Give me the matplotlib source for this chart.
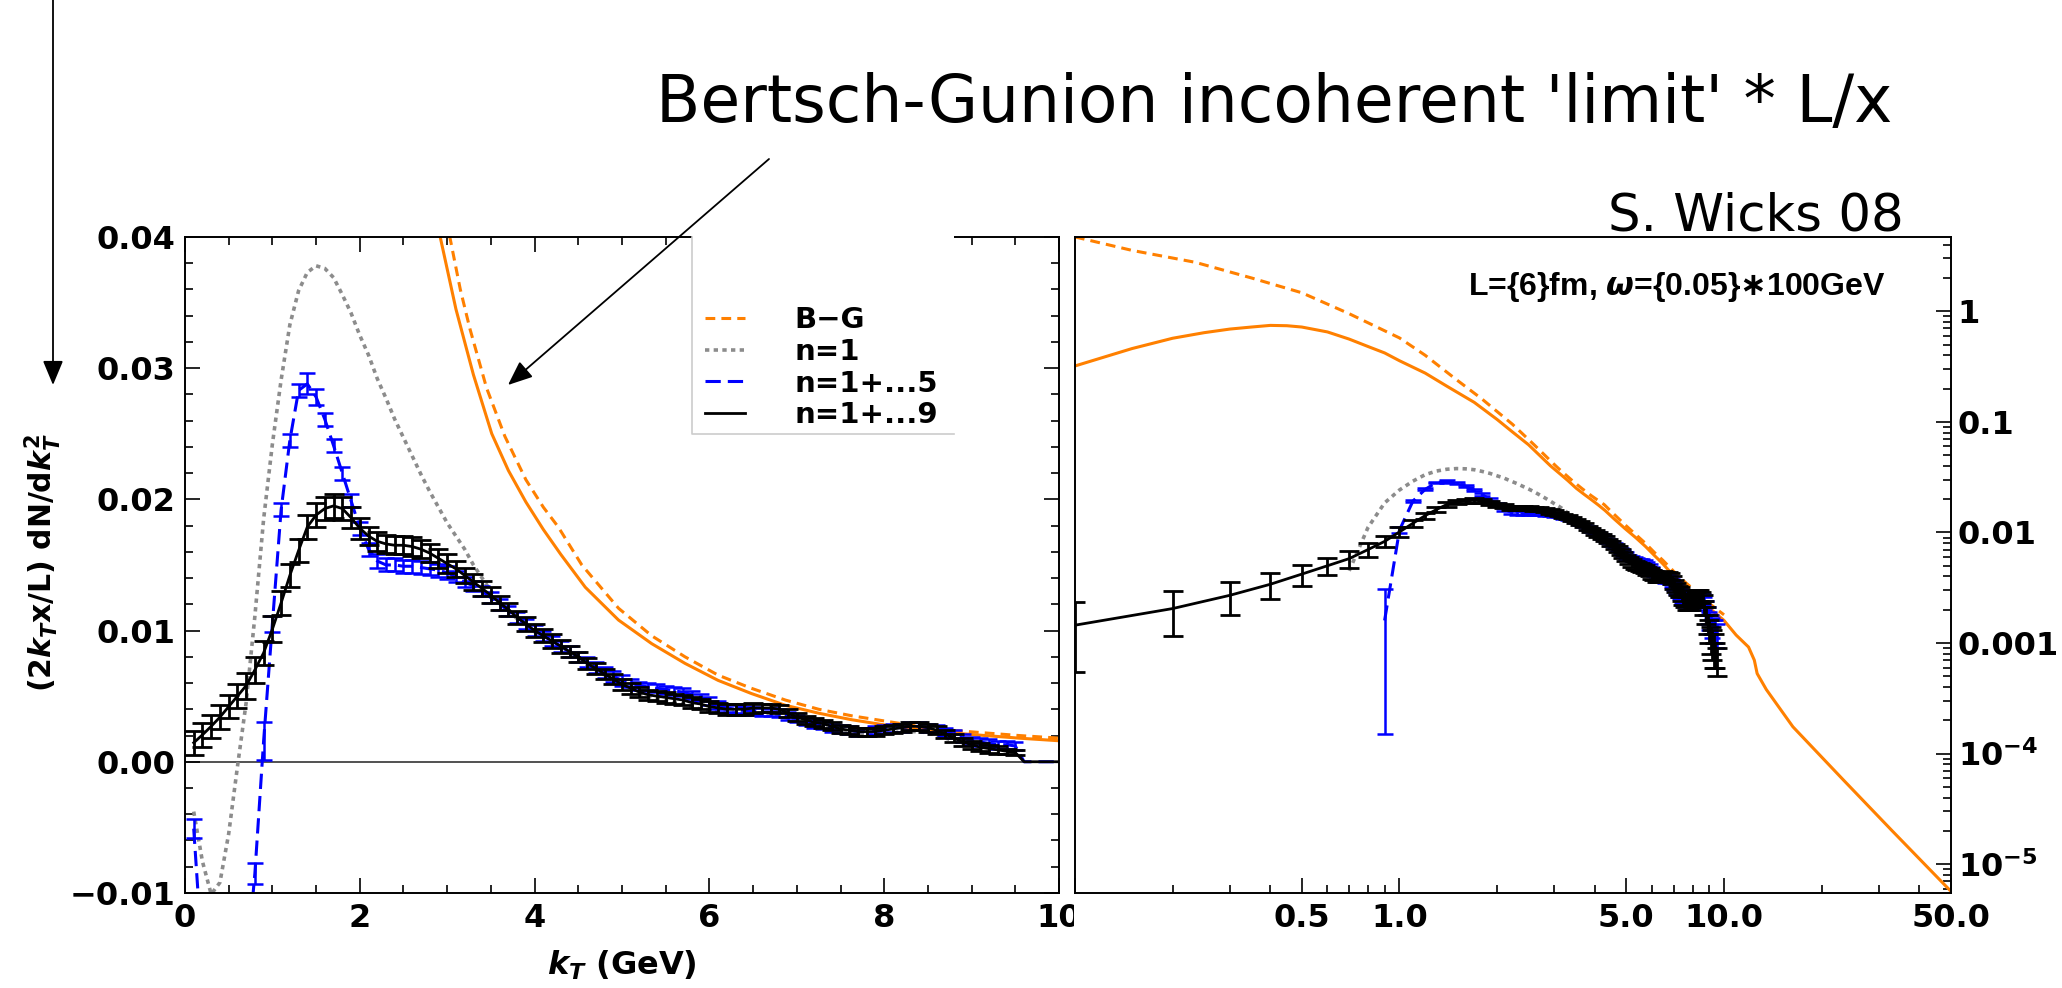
import matplotlib
matplotlib.use("Agg")
import matplotlib.pyplot as plt
from matplotlib.patches import Rectangle, FancyArrowPatch
from matplotlib.ticker import FixedLocator, MultipleLocator, NullFormatter

plt.rcParams['font.family'] = ['DejaVu Sans']
plt.rcParams['font.weight'] = 'bold'
plt.rcParams['axes.labelweight'] = 'bold'
plt.rcParams['mathtext.fontset'] = 'custom'
plt.rcParams['mathtext.rm'] = 'DejaVu Sans:bold'
plt.rcParams['mathtext.bf'] = 'DejaVu Sans:bold'
plt.rcParams['mathtext.it'] = 'DejaVu Sans:italic:bold'

# kT grid of the Monte Carlo points (GeV)
kt = [0.1, 0.2, 0.3, 0.4, 0.5, 0.6, 0.7, 0.8, 0.9, 1.0,
      1.1, 1.2, 1.3, 1.4, 1.5, 1.6, 1.7, 1.8, 1.9, 2.0,
      2.1, 2.2, 2.3, 2.4, 2.5, 2.6, 2.7, 2.8, 2.9, 3.0,
      3.1, 3.2, 3.3, 3.4, 3.5, 3.6, 3.7, 3.8, 3.9, 4.0,
      4.1, 4.2, 4.3, 4.4, 4.5, 4.6, 4.7, 4.8, 4.9, 5.0,
      5.1, 5.2, 5.3, 5.4, 5.5, 5.6, 5.7, 5.8, 5.9, 6.0,
      6.1, 6.2, 6.3, 6.4, 6.5, 6.6, 6.7, 6.8, 6.9, 7.0,
      7.1, 7.2, 7.3, 7.4, 7.5, 7.6, 7.7, 7.8, 7.9, 8.0,
      8.1, 8.2, 8.3, 8.4, 8.5, 8.6, 8.7, 8.8, 8.9, 9.0,
      9.1, 9.2, 9.3, 9.4, 9.5, 9.6, 9.7, 9.8, 9.9, 10.0]

# n=1+...9 (black)
black_y = [0.00145, 0.00205, 0.0027, 0.0034, 0.0042, 0.0050, 0.0058, 0.0070, 0.0083, 0.0101,
           0.0121, 0.0142, 0.0161, 0.0179, 0.0188, 0.0193, 0.0195, 0.0193, 0.0186, 0.0178,
           0.0172, 0.0168, 0.0166, 0.0165, 0.0165, 0.0164, 0.0162, 0.0159, 0.0155, 0.0151,
           0.0147, 0.0142, 0.0137, 0.0132, 0.0127, 0.0121, 0.0116, 0.0110, 0.0105, 0.0100,
           0.0096, 0.0092, 0.0088, 0.0084, 0.0080, 0.0075, 0.0071, 0.0067, 0.0063, 0.0059,
           0.0056, 0.0053, 0.0051, 0.0050, 0.0049, 0.0048, 0.0047, 0.0045, 0.0044, 0.0042,
           0.0041, 0.0040, 0.0040, 0.0040, 0.0041, 0.0041, 0.0041, 0.0040, 0.0037, 0.0034,
           0.0032, 0.0030, 0.0029, 0.0027, 0.0025, 0.0024, 0.0023, 0.0023, 0.0023, 0.0024,
           0.0025, 0.0026, 0.0027, 0.0027, 0.0026, 0.0024, 0.0021, 0.0018, 0.0015, 0.0013,
           0.0011, 0.0010, 0.0009, 0.0008, 0.0007, 0.0, 0.0, 0.0, 0.0, 0.0]
black_err = [0.0009, 0.0009, 0.0009, 0.0009, 0.0009, 0.0009, 0.0010, 0.0010, 0.0009, 0.0010,
             0.0009, 0.0009, 0.0009, 0.0009, 0.0009, 0.0009, 0.0009, 0.0009, 0.0008, 0.0008,
             0.0007, 0.0007, 0.0007, 0.0007, 0.0007, 0.0007, 0.0007, 0.0007, 0.0007, 0.0007,
             0.0006, 0.0006, 0.0006, 0.0006, 0.0006, 0.0005, 0.0005, 0.0005, 0.0005, 0.0005,
             0.0005, 0.0005, 0.0005, 0.0004, 0.0004, 0.0004, 0.0004, 0.0004, 0.0004, 0.0004,
             0.0004, 0.0004, 0.0004, 0.0004, 0.0004, 0.0004, 0.0004, 0.0004, 0.0004, 0.0004,
             0.0004, 0.0004, 0.0004, 0.0004, 0.0004, 0.0003, 0.0003, 0.0003, 0.0003, 0.0003,
             0.0003, 0.0003, 0.0003, 0.0003, 0.0003, 0.0003, 0.0003, 0.0003, 0.0003, 0.0003,
             0.0003, 0.0003, 0.0003, 0.0003, 0.0003, 0.0003, 0.0003, 0.0003, 0.0003, 0.0003,
             0.0003, 0.0003, 0.0003, 0.0002, 0.0002]

# n=1+...5 (blue)
blue_y = [-0.0051, -0.0150, -0.0220, -0.0250, -0.0245, -0.0210, -0.0160, -0.0085, 0.0016, 0.0105,
          0.0192, 0.0245, 0.0283, 0.0288, 0.0278, 0.0261, 0.0241, 0.0220, 0.0199, 0.0178,
          0.0162, 0.0153, 0.0150, 0.0150, 0.0149, 0.0149, 0.0148, 0.0147, 0.0146, 0.0144,
          0.0141, 0.0137, 0.0134, 0.0130, 0.0125, 0.0120, 0.0115, 0.0110, 0.0105, 0.0100,
          0.0096, 0.0092, 0.0088, 0.0084, 0.0080, 0.0076, 0.0072, 0.0068, 0.0065, 0.0062,
          0.0060, 0.0058, 0.0057, 0.0056, 0.0055, 0.0054, 0.0053, 0.0051, 0.0049, 0.0046,
          0.0043, 0.0041, 0.0040, 0.0039, 0.0039, 0.0038, 0.0038, 0.0037, 0.0035, 0.0033,
          0.0031, 0.0029, 0.0028, 0.0026, 0.0025, 0.0024, 0.0023, 0.0023, 0.0024, 0.0025,
          0.0026, 0.0026, 0.0027, 0.0027, 0.0026, 0.0025, 0.0023, 0.0021, 0.0018, 0.0016,
          0.0015, 0.0014, 0.0013, 0.0013, 0.0012, 0.0, 0.0, 0.0, 0.0, 0.0]
blue_err = [0.0007, 0.0008, 0.0008, 0.0008, 0.0008, 0.0008, 0.0008, 0.0008, 0.00145, 0.0006,
            0.0005, 0.0005, 0.0005, 0.0008, 0.0006, 0.0005, 0.0005, 0.0005, 0.0005, 0.0005,
            0.0005, 0.0005, 0.0005, 0.0005, 0.0005, 0.0005, 0.0005, 0.0005, 0.0005, 0.0005,
            0.0004, 0.0004, 0.0004, 0.0004, 0.0004, 0.0004, 0.0004, 0.0004, 0.0004, 0.0004,
            0.0004, 0.0004, 0.0004, 0.0004, 0.0004, 0.0004, 0.0004, 0.0004, 0.0004, 0.0004,
            0.0003, 0.0003, 0.0003, 0.0003, 0.0003, 0.0003, 0.0003, 0.0003, 0.0003, 0.0003,
            0.0003, 0.0003, 0.0003, 0.0003, 0.0003, 0.0003, 0.0003, 0.0003, 0.0003, 0.0003,
            0.0003, 0.0003, 0.0003, 0.0003, 0.0003, 0.0003, 0.0003, 0.0003, 0.0003, 0.0003,
            0.0003, 0.0003, 0.0003, 0.0003, 0.0003, 0.0003, 0.0003, 0.0003, 0.0003, 0.0003,
            0.0003, 0.0003, 0.0003, 0.0003, 0.0003]

# n=1 (gray), kT = 0.1 ... 9.0
gray_y = [-0.0038, -0.0076, -0.0101, -0.0092, -0.0055, -0.0004, 0.0045, 0.0111, 0.0185, 0.0242,
          0.0291, 0.0333, 0.0359, 0.0373, 0.0378, 0.0376, 0.0369, 0.0356, 0.0342, 0.0325,
          0.0310, 0.0292, 0.0277, 0.0261, 0.0247, 0.0233, 0.0219, 0.0206, 0.0194, 0.0182,
          0.0172, 0.0162, 0.0150, 0.0140, 0.0130, 0.0122, 0.0115, 0.0109, 0.0104, 0.0099,
          0.0095, 0.0090, 0.0086, 0.0082, 0.0078, 0.0074, 0.0070, 0.0066, 0.0062, 0.0059,
          0.0056, 0.0053, 0.0050, 0.0048, 0.0046, 0.0045, 0.0044, 0.0042, 0.0040, 0.0039,
          0.0038, 0.0037, 0.0037, 0.0037, 0.0037, 0.0037, 0.0036, 0.0035, 0.0033, 0.0031,
          0.0029, 0.0028, 0.0026, 0.0025, 0.0024, 0.0023, 0.0022, 0.0021, 0.0021, 0.0021,
          0.0022, 0.0023, 0.0023, 0.0023, 0.0022, 0.0020, 0.0018, 0.0016, 0.0014, 0.0012]

# Bertsch-Gunion curves (solid and dashed)
bg_k = [0.10, 0.15, 0.20, 0.25, 0.30, 0.35, 0.40, 0.45, 0.50, 0.60, 0.70, 0.80, 0.90, 1.00,
        1.20, 1.40, 1.70, 2.00, 2.23, 2.50, 2.92, 3.10, 3.30, 3.51, 3.70, 3.90, 4.10, 4.30,
        4.58, 4.96, 5.34, 5.72, 6.10, 6.48, 6.87, 7.25, 7.63, 8.01, 8.39, 8.77, 9.15, 9.54,
        10.0, 10.9, 11.9, 12.4, 12.65, 13.5, 16.3, 23.3, 33.0, 50.0]
bg_solid = [0.32, 0.46, 0.57, 0.64, 0.69, 0.72, 0.745, 0.74, 0.72, 0.65, 0.56, 0.48, 0.42, 0.357,
            0.276, 0.21, 0.15, 0.105, 0.081, 0.062, 0.040, 0.0345, 0.0295, 0.0250, 0.0222, 0.0198,
            0.0177, 0.0158, 0.0133, 0.0108, 0.0090, 0.0075, 0.0062, 0.0052, 0.0043, 0.0037,
            0.0032, 0.0028, 0.0025, 0.0022, 0.0020, 0.0018, 0.0016, 0.00118, 0.00092, 0.00070,
            0.00053, 0.00038, 0.000175, 5.8e-5, 2.0e-5, 5.7e-6]
bgd_k = [0.10, 0.15, 0.235, 0.35, 0.50, 0.70, 1.00, 1.20, 1.50, 1.80, 2.23, 2.60, 3.03, 3.15,
         3.26, 3.45, 3.66, 3.90, 4.10, 4.27, 4.54, 4.96, 5.34, 5.72, 6.10, 6.48, 6.87, 7.25,
         7.63, 8.01, 8.39, 8.77, 9.15, 9.54, 10.0]
bg_dashed = [4.7, 3.55, 2.77, 2.0, 1.47, 0.95, 0.574, 0.40, 0.24, 0.16, 0.095, 0.062, 0.040, 0.0360,
             0.0330, 0.0285, 0.0248, 0.0215, 0.0194, 0.0179, 0.0150, 0.0117, 0.0096, 0.0080,
             0.0066, 0.0056, 0.0047, 0.0040, 0.0035, 0.0031, 0.0027, 0.0024, 0.0022, 0.0020, 0.0018]

lin_xticks = [0, 2, 4, 6, 8, 10]
lin_xlabels = ['0', '2', '4', '6', '8', '10']
lin_yticks = [-0.01, 0.0, 0.01, 0.02, 0.03, 0.04]
lin_ylabels = ['\u22120.01', '0.00', '0.01', '0.02', '0.03', '0.04']
log_xticks = [0.1, 0.5, 1.0, 5.0, 10.0, 50.0]
log_xlabels = ['', '0.5', '1.0', '5.0', '10.0', '50.0']
log_xminor = [0.2, 0.3, 0.4, 0.6, 0.7, 0.8, 0.9, 2, 3, 4, 6, 7, 8, 9, 20, 30, 40]
log_yticks = [1e-5, 1e-4, 1e-3, 1e-2, 1e-1, 1]
log_ylabels = [r'$\mathbf{10^{-5}}$', r'$\mathbf{10^{-4}}$', '0.001', '0.01', '0.1', '1']

ORANGE = '#FF8000'
GRAY = '#8c8c8c'
BLUE = '#0000FF'


def draw_series(ax):
    ax.plot(bg_k, bg_solid, color=ORANGE, lw=2.2, zorder=1.8)
    l_bg, = ax.plot(bgd_k, bg_dashed, color=ORANGE, lw=2.2, ls=(0, (3.2, 2)),
                    zorder=1.8, label='B\u2212G')
    l_gray, = ax.plot(kt[:len(gray_y)], gray_y, color=GRAY, lw=2.6, ls=(0, (1.2, 1.2)),
                      label='n=1')
    l_blue, = ax.plot(kt, blue_y, color=BLUE, lw=2.2, ls=(0, (5, 2.3)), label='n=1+...5')
    ax.errorbar(kt[:len(blue_err)], blue_y[:len(blue_err)], yerr=blue_err, fmt='none',
                ecolor=BLUE, elinewidth=1.8, capsize=6, capthick=1.8)
    l_black, = ax.plot(kt, black_y, color='black', lw=2.0, label='n=1+...9')
    ax.errorbar(kt[:len(black_err)], black_y[:len(black_err)], yerr=black_err, fmt='none',
                ecolor='black', elinewidth=2.0, capsize=7, capthick=2.0)
    return [l_bg, l_gray, l_blue, l_black]


fig = plt.figure(figsize=(20.62, 9.88), dpi=100)
axl = fig.add_axes([0.0897, 0.0962, 0.4239, 0.664])
axr = fig.add_axes([0.5213, 0.0962, 0.4248, 0.664])

# ---- left panel, linear
handles = draw_series(axl)
axl.axhline(0, color='#333333', lw=1.2, zorder=1)
axl.set_xlim(0, 10)
axl.set_ylim(-0.01, 0.04)
axl.set_xticks(lin_xticks, labels=lin_xlabels)
axl.set_yticks(lin_yticks, labels=lin_ylabels)
axl.xaxis.set_minor_locator(MultipleLocator(0.5))
axl.yaxis.set_minor_locator(MultipleLocator(0.002))
axl.tick_params(which='both', direction='in', top=True, right=True, labelsize=23, width=1.2)
axl.tick_params(which='major', length=11)
axl.tick_params(which='minor', length=6)
axl.tick_params(axis='y', pad=7)
axl.tick_params(axis='x', pad=7)
for sp in axl.spines.values():
    sp.set_linewidth(1.4)

axl.set_ylabel(r'(2$k_T$x/L) dN/d$k_T^{\mathbf{2}}$', fontsize=21.5, va='center')
axl.yaxis.set_label_coords(-0.1625, 0.503)
axl.set_xlabel(r'$k_T$ (GeV)', fontsize=23, va='center')
axl.xaxis.set_label_coords(0.5, -0.111)

# legend sits on a white box that also hides part of the top frame
axl.add_patch(Rectangle((0.580, 0.6997), 0.300, 0.3103, transform=axl.transAxes,
                        facecolor='white', edgecolor='none', zorder=4, clip_on=False))
axl.plot([0.580, 0.580, 0.880], [1.0, 0.6997, 0.6997], transform=axl.transAxes,
         color='#cccccc', lw=1.2, zorder=4.5, clip_on=False)
leg = axl.legend(handles=handles, loc='upper left', bbox_to_anchor=(0.595, 0.8948),
                 frameon=False, prop={'size': 21, 'weight': 'bold'}, handlelength=1.37,
                 handletextpad=1.71, labelspacing=0.13, borderpad=0, borderaxespad=0)
leg.set_zorder(6)

# ---- right panel, log-log
axr.set_xscale('log', nonpositive='mask')
axr.set_yscale('log', nonpositive='mask')
draw_series(axr)
axr.set_xlim(0.1, 50)
axr.set_ylim(5.5e-6, 4.7)
axr.set_xticks(log_xticks, labels=log_xlabels)
axr.xaxis.set_minor_locator(FixedLocator(log_xminor))
axr.xaxis.set_minor_formatter(NullFormatter())
axr.yaxis.tick_right()
axr.set_yticks(log_yticks, labels=log_ylabels)
axr.yaxis.set_minor_locator(FixedLocator([m * 10.0 ** e for e in range(-6, 1) for m in range(2, 10)]))
axr.yaxis.set_minor_formatter(NullFormatter())
axr.tick_params(which='both', direction='in', top=False, left=False, right=True, bottom=True,
                labelleft=False, labelright=True, labelsize=23, width=1.2)
axr.tick_params(which='major', length=11)
axr.tick_params(which='minor', length=6)
axr.tick_params(axis='y', pad=5)
axr.tick_params(axis='x', pad=7)
for sp in axr.spines.values():
    sp.set_linewidth(1.4)
axr.text(0.925, 0.9116, r'L={6}fm, $\omega$={0.05}$\ast$100GeV', transform=axr.transAxes,
         ha='right', va='baseline', fontsize=23, family=['Liberation Sans', 'DejaVu Sans'])

# hide the right half of the left panel's "10" like the original
fig.add_artist(Rectangle((1074 / 2062, 1 - 945 / 988), 22 / 2062, 50 / 988,
                         transform=fig.transFigure, facecolor='white', edgecolor='none', zorder=5))

# ---- annotations
fig.text(0.618, 0.8765, "Bertsch-Gunion incoherent 'limit' * L/x", ha='center', va='baseline',
         fontsize=46.5, family='DejaVu Sans', weight='normal')
fig.text(0.9234, 0.767, 'S. Wicks 08', ha='right', va='baseline', fontsize=37,
         family='DejaVu Sans', weight='normal')

arrow_style = '-|>,head_length=0.6,head_width=0.25'
fig.add_artist(FancyArrowPatch((769 / 2062, 1 - 159 / 988), (508 / 2062, 1 - 385 / 988),
                               transform=fig.transFigure, arrowstyle=arrow_style,
                               mutation_scale=25, color='black', lw=1.3, shrinkA=0, shrinkB=0))
fig.add_artist(FancyArrowPatch((53 / 2062, 1.0), (53 / 2062, 1 - 385 / 988),
                               transform=fig.transFigure, arrowstyle=arrow_style,
                               mutation_scale=25, color='black', lw=1.3, shrinkA=0, shrinkB=0))

fig.savefig('out.png', dpi=100)
